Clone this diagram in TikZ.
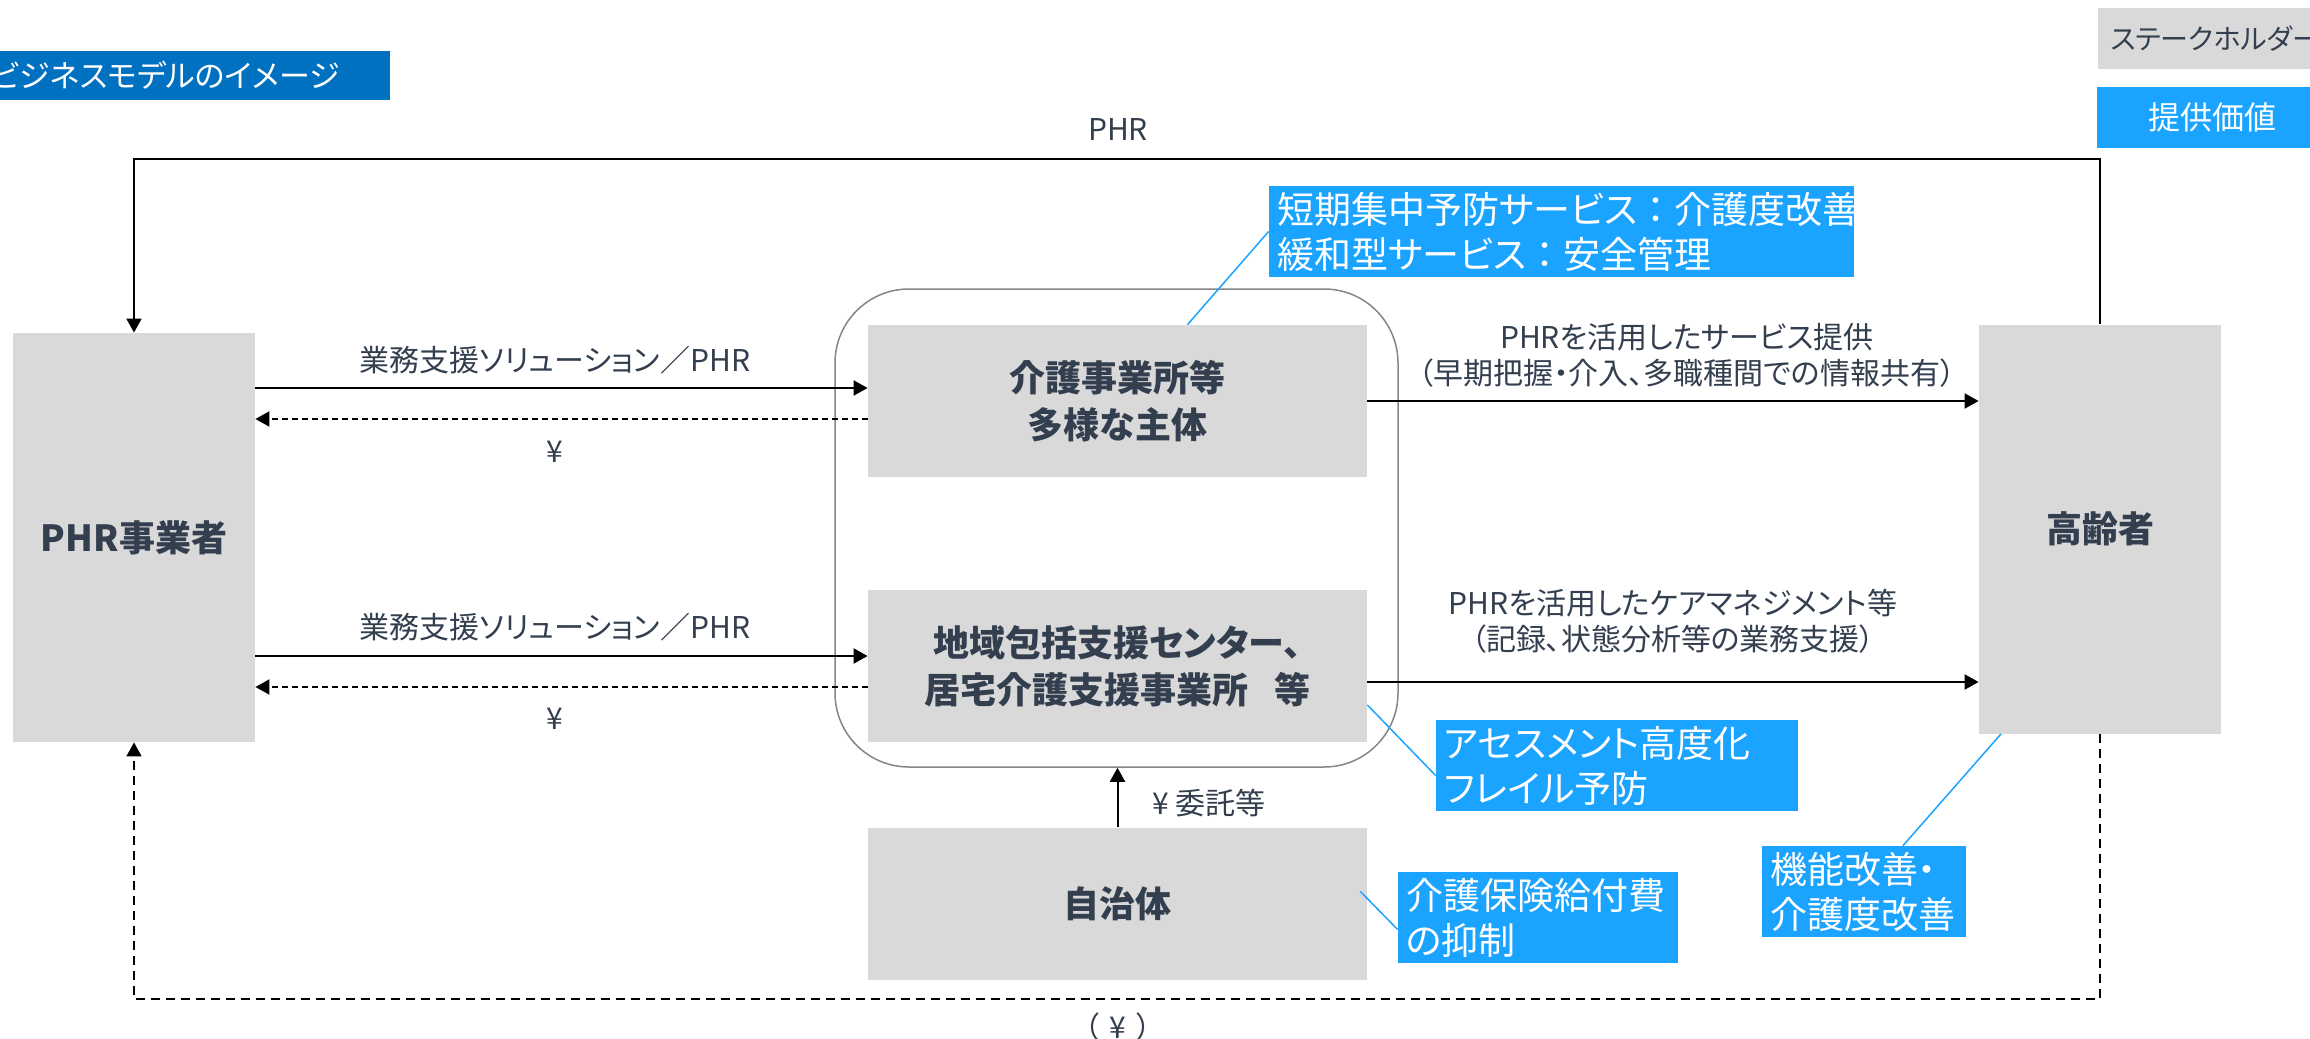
\documentclass[tikz,border=0pt]{standalone}
\usepackage{fontspec}
\setmainfont{Noto Sans CJK JP}[RawFeature=+palt]
\newfontfamily\fullwidth{Noto Sans CJK JP}
\usepackage{tikz}
\usetikzlibrary{arrows.meta}
\usetikzlibrary{calc}
\definecolor{boxgray}{HTML}{D9D9D9}
\definecolor{inkdark}{HTML}{333F4F}
\definecolor{valueblue}{HTML}{1AA3FF}
\definecolor{titleblue}{HTML}{0070C0}
\definecolor{framegray}{HTML}{858585}
\tikzset{actor/.style={fill=boxgray, text=inkdark, align=center, inner sep=0pt,
    font=\fontsize{18}{23.5}\selectfont\bfseries}}
\tikzset{tall/.style={minimum width=121pt, minimum height=204.5pt}}
\tikzset{wide/.style={minimum width=249.5pt, minimum height=76pt}}
\tikzset{value/.style={fill=valueblue, text=white, align=left, inner xsep=4pt,
    inner ysep=0pt, minimum height=45.5pt, font=\fontsize{18.5}{22.5}\selectfont}}
\tikzset{note/.style={text=inkdark, align=center, inner sep=0pt,
    font=\fontsize{15}{18}\selectfont}}
\tikzset{flow/.style={draw=black, line width=1pt, -{Triangle[length=7pt,width=7.5pt]}}}
\tikzset{back/.style={dash pattern=on 3pt off 2pt}}
\tikzset{pointer/.style={draw=valueblue, line width=0.75pt}}
\tikzset{%
  apply style/.code={%
    \tikzset{#1}%
  }
}

\begin{document}
\begin{tikzpicture}[x=0.5pt,y=-0.5pt]
  \useasboundingbox (0,0) rectangle (2310,1038);
  % title and legend
  \node[fill=titleblue, text=white, anchor=east, inner xsep=25pt, inner ysep=0pt,
    minimum height=24.5pt, font=\fontsize{15.5}{18}\selectfont] (title) at (390,75.5)
    {ビジネスモデルのイメージ};
  \node[fill=boxgray, anchor=west, minimum width=128pt, minimum height=30.5pt,
    inner sep=0pt] (legstake) at (2098,38.5) {};
  \node[text=inkdark, anchor=west, inner sep=0pt, font=\fontsize{14}{17}\selectfont]
    (legstaketext) at (2110,38.5) {ステークホルダー};
  \node[fill=valueblue, text=white, minimum width=115pt, minimum height=30.5pt,
    inner sep=0pt, font=\fontsize{16}{19}\selectfont] (legvalue) at (2212,117.5)
    {提供価値};
  % service providers frame
  \node[draw=framegray, line width=0.75pt, rounded corners=37pt,
    minimum width=281.5pt, minimum height=239pt] (hub) at (1116.5,528) {};
  \foreach \x/\y/\shape/\name/\lab in {
    134/537.5/tall/phr/{PHR事業者},
    2100/529/tall/koureisha/{高齢者},
    1117.5/401/wide/kaigo/{介護事業所等\\多様な主体},
    1117.5/666/wide/chiiki/{地域包括支援センター、\\居宅介護支援事業所\hspace{0.7em}等},
    1117.5/903.5/wide/jichi/{自治体}%
  } {
    \node[actor, apply style/.expand once=\shape] (\name) at (\x, \y) {\lab};
  }
  \foreach \u/\a/\v/\b/\y/\style in {
    phr/east/kaigo/west/388/{},
    kaigo/west/phr/east/419/{back},
    phr/east/chiiki/west/656/{},
    chiiki/west/phr/east/687/{back},
    kaigo/east/koureisha/west/401/{},
    chiiki/east/koureisha/west/682/{}%
  }{
    \draw[flow, apply style/.expand once=\style] (\u.\a |- 0,\y) -- (\v.\b |- 0,\y);
  }
  \draw[flow] (jichi.north) -- (jichi.north |- hub.south);
  \draw[flow, line width=0.85pt] (koureisha.north) |- (phr.north |- 0,159) -- (phr.north);
  \draw[flow, line width=0.75pt, dash pattern=on 4.5pt off 3pt]
    (koureisha.south) |- (phr.south |- 0,999) -- (phr.south);
  % labels on the connectors
  \foreach \x/\y/\name/\lab in {
    1118/130/lphr/{PHR},
    555/360/lsol1/{業務支援ソリューション／PHR},
    555/452/lyen1/{¥},
    555/627/lsol2/{業務支援ソリューション／PHR},
    555/719/lyen2/{¥},
    1687/355/lserv/{PHRを活用したサービス提供\\（早期把握・介入、多職種間での情報共有）},
    1673/621.5/lcare/{PHRを活用したケアマネジメント等\\（記録、状態分析等の業務支援）},
    1118/1027/lyen3/{（\hspace{0.35em}¥\hspace{0.35em}）}%
  } {
    \node[note] (\name) at (\x, \y) {\lab};
  }
  \node[note, anchor=west] (litaku) at (1152,803) {¥ 委託等};
  % value callouts
  \foreach \x/\y/\w/\tw/\name/\lab in {
    1561.5/231.5/292.5pt/284.5pt/c1/{短期集中予防サービス{\fullwidth ：}介護度改善\\緩和型サービス{\fullwidth ：}安全管理},
    1617/765.5/181pt/173pt/c2/{アセスメント高度化\\フレイル予防},
    1538/917.5/140pt/132pt/c3/{介護保険給付費\\の抑制},
    1864/891.5/102pt/94pt/c4/{機能改善・\\介護度改善}%
  } {
    \node[value, minimum width=\w, text width=\tw] (\name) at (\x, \y) {\lab};
  }
  \draw[pointer] (c1.west) -- ($(kaigo.north)+(70,0)$);
  \draw[pointer] ($(chiiki.east)+(0,39)$) -- ($(c2.west)+(0,10)$);
  \draw[pointer] ($(jichi.east)+(-7,-12)$) -- ($(c3.west)+(0,12)$);
  \draw[pointer] ($(c4.north)+(39,0)$) -- ($(koureisha.south)+(-99,0)$);
\end{tikzpicture}
\end{document}
